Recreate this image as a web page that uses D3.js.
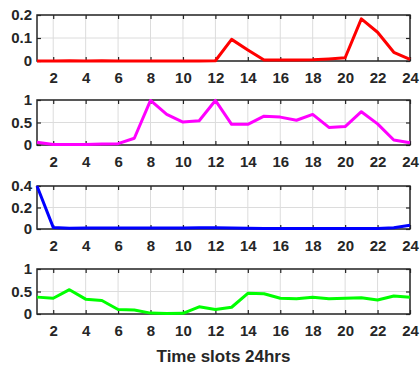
<!DOCTYPE html>
<html>
<head>
<meta charset="utf-8">
<script src="https://cdn.jsdelivr.net/npm/d3@7"></script>
<style>
  body { margin: 0; background: #fff; }
  svg { display: block; font-family: "Liberation Sans", Arial, sans-serif; }
  .tick text { font-size: 15px; font-weight: bold; fill: #262626; }
</style>
</head>
<body>
<svg width="420" height="368"></svg>
<script>
var slots = d3.range(1, 25);
var xTicks = [2, 4, 6, 8, 10, 12, 14, 16, 18, 20, 22, 24];

var redVals = [0, 0, 0.001, 0, 0.001, 0, 0, 0, 0, 0, 0, 0.001, 0.094, 0.048, 0.004, 0.004, 0.004, 0.005, 0.009, 0.014, 0.183, 0.125, 0.038, 0.007];
var magentaVals = [0.06, 0.01, 0.01, 0.01, 0.02, 0.03, 0.15, 0.99, 0.68, 0.51, 0.54, 0.99, 0.46, 0.46, 0.64, 0.62, 0.55, 0.68, 0.39, 0.41, 0.74, 0.47, 0.11, 0.05];
var blueVals = [0.4, 0.015, 0.008, 0.01, 0.01, 0.01, 0.01, 0.01, 0.01, 0.01, 0.012, 0.012, 0.01, 0.006, 0.005, 0.005, 0.005, 0.005, 0.005, 0.005, 0.005, 0.005, 0.012, 0.034];
var greenVals = [0.375, 0.35, 0.54, 0.33, 0.30, 0.10, 0.09, 0.02, 0.01, 0.015, 0.16, 0.10, 0.15, 0.46, 0.45, 0.35, 0.34, 0.37, 0.34, 0.35, 0.36, 0.31, 0.40, 0.37];

var panels = [
    { vals: redVals, color: "#ff0000", max: 0.2, ticks: [0, 0.1, 0.2], top: 15, bottom: 61 },
    { vals: magentaVals, color: "#ff00ff", max: 1, ticks: [0, 0.5, 1], top: 100, bottom: 145 },
    { vals: blueVals, color: "#0000ff", max: 0.4, ticks: [0, 0.2, 0.4], top: 186, bottom: 229 },
    { vals: greenVals, color: "#00ff00", max: 1, ticks: [0, 0.5, 1], top: 269, bottom: 314 }
];

var svg = d3.select("svg");
var left = 37, right = 410;

var x = d3.scaleLinear().domain([1, 24]).range([left, right]);

panels.forEach(function(p) {
    var y = d3.scaleLinear().domain([0, p.max]).range([p.bottom, p.top]);
    var g = svg.append("g");

    // grid
    g.selectAll(".vg").data(xTicks).enter().append("line")
        .attr("x1", function(d) { return x(d); }).attr("x2", function(d) { return x(d); })
        .attr("y1", p.top).attr("y2", p.bottom)
        .style("stroke", "#dcdcdc").style("stroke-width", 1);
    g.selectAll(".hg").data(p.ticks).enter().append("line")
        .attr("x1", left).attr("x2", right)
        .attr("y1", function(d) { return y(d); }).attr("y2", function(d) { return y(d); })
        .style("stroke", "#dcdcdc").style("stroke-width", 1);

    var fmt = function(d) { return d === 0 ? "0" : String(d); };

    var xb = g.append("g").attr("transform", "translate(0," + p.bottom + ")")
        .call(d3.axisBottom(x).tickValues(xTicks).tickSizeInner(-4).tickSizeOuter(0).tickPadding(11));
    var xt = g.append("g").attr("transform", "translate(0," + p.top + ")")
        .call(d3.axisTop(x).tickValues(xTicks).tickSizeInner(-4).tickSizeOuter(0).tickFormat(""));
    var yl = g.append("g").attr("transform", "translate(" + left + ",0)")
        .call(d3.axisLeft(y).tickValues(p.ticks).tickSizeInner(-4).tickSizeOuter(0).tickPadding(5).tickFormat(fmt));
    var yr = g.append("g").attr("transform", "translate(" + right + ",0)")
        .call(d3.axisRight(y).tickValues(p.ticks).tickSizeInner(-4).tickSizeOuter(0).tickFormat(""));

    [xb, xt, yl, yr].forEach(function(a) {
        a.select(".domain").remove();
        a.selectAll(".tick line").style("stroke", "#262626").style("stroke-width", 1.2);
    });

    g.append("rect")
        .attr("x", left).attr("y", p.top)
        .attr("width", right - left).attr("height", p.bottom - p.top)
        .style("fill", "none").style("stroke", "#262626").style("stroke-width", 1.5);

    var line = d3.line()
        .x(function(d, i) { return x(slots[i]); })
        .y(function(d) { return y(d); });

    g.append("path")
        .datum(p.vals)
        .attr("d", line)
        .style("fill", "none")
        .style("stroke", p.color)
        .style("stroke-width", 3)
        .style("stroke-linejoin", "round");
});

svg.append("text")
    .attr("x", (left + right) / 2)
    .attr("y", 362)
    .attr("text-anchor", "middle")
    .style("font-size", "17px")
    .style("font-weight", "bold")
    .style("fill", "#262626")
    .text("Time slots 24hrs");
</script>
</body>
</html>
